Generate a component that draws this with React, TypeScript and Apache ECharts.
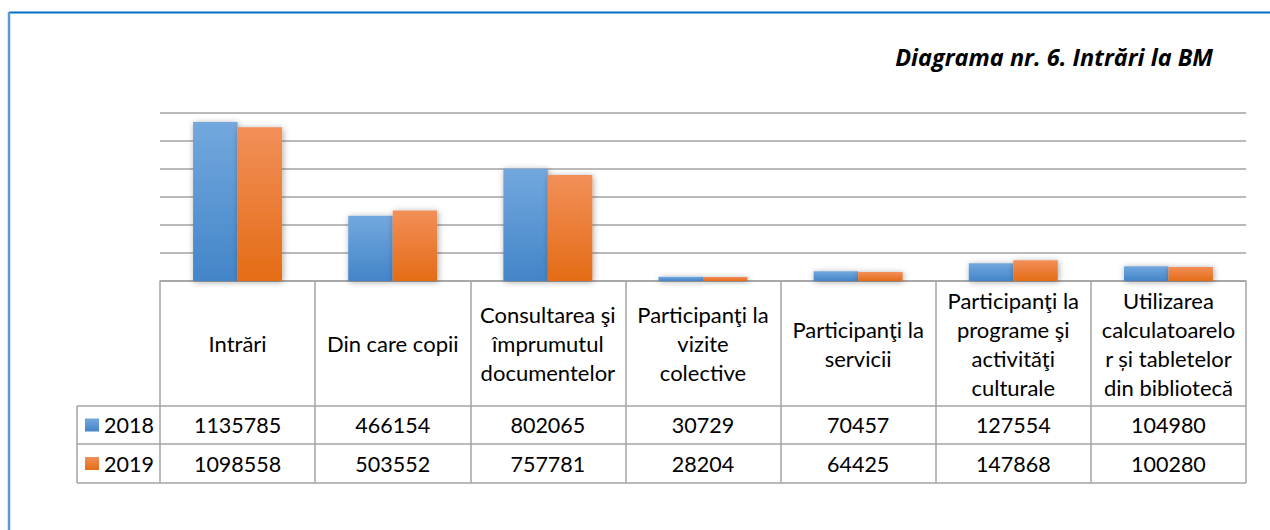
import React, { useEffect, useRef } from "react";
import * as echarts from "echarts";

const categories = [
  "Intrări",
  "Din care copii",
  "Consultarea şi\nîmprumutul\ndocumentelor",
  "Participanţi la\nvizite\ncolective",
  "Participanţi la\nservicii",
  "Participanţi la\nprograme şi\nactivităţi\nculturale",
  "Utilizarea\ncalculatoarelo\nr și tabletelor\ndin bibliotecă",
];
const seriesNames = ["2018", "2019"];
const values2018 = [1135785, 466154, 802065, 30729, 70457, 127554, 104980];
const values2019 = [1098558, 503552, 757781, 28204, 64425, 147868, 100280];
const titleText = "Diagrama nr. 6. Intrări la BM";

const FONT = "Lato, 'Noto Sans', sans-serif";
const TITLE_FONT = "'Open Sans', 'Noto Sans', sans-serif";

export default function App() {
  const ref = useRef<HTMLDivElement>(null);
  useEffect(() => {
    if (!ref.current) return;
    const chart = echarts.init(ref.current, undefined, { renderer: "svg" });
    const W = 1270;
    const H = 530;
    const gridLeft = 160;
    const gridRight = 1246;
    const gridTop = 113;
    const axisY = 281;
    const row1 = 406;
    const row2 = 444;
    const row3 = 483;
    const tableLeft = 77;
    const lineColor = "#a3a3a3";

    const blueGrad = new echarts.graphic.LinearGradient(0, 0, 0, 1, [
      { offset: 0, color: "#73a8de" },
      { offset: 1, color: "#4385c8" },
    ]);
    const orangeGrad = new echarts.graphic.LinearGradient(0, 0, 0, 1, [
      { offset: 0, color: "#f28f58" },
      { offset: 1, color: "#e46c16" },
    ]);

    const hLine = (y: number) => ({
      type: "line",
      shape: { x1: tableLeft, y1: y, x2: gridRight, y2: y },
      style: { stroke: lineColor, lineWidth: 1.5 },
      silent: true,
    });

    chart.setOption({
      animation: false,
      backgroundColor: "#ffffff",
      title: {
        text: titleText,
        right: W - 1213,
        top: 43,
        padding: 0,
        textStyle: {
          fontFamily: TITLE_FONT,
          fontStyle: "italic",
          fontWeight: "bold",
          fontSize: 23.5,
          lineHeight: 28,
          color: "#000000",
        },
      },
      legend: {
        orient: "vertical",
        left: 85,
        top: 413,
        padding: 0,
        itemWidth: 14,
        itemHeight: 13,
        itemGap: 14.5,
        icon: "rect",
        data: seriesNames,
        textStyle: {
          fontFamily: FONT,
          fontSize: 21.5,
          lineHeight: 24,
          color: "#000000",
          padding: [0, 0, 0, 0],
        },
      },
      grid: {
        left: gridLeft,
        right: W - gridRight,
        top: gridTop,
        bottom: H - axisY,
        containLabel: false,
      },
      xAxis: [
        {
          type: "category",
          data: categories,
          position: "bottom",
          axisLine: { show: true, lineStyle: { color: lineColor, width: 1.5 } },
          axisTick: {
            show: true,
            interval: 0,
            length: row3 - axisY,
            lineStyle: { color: lineColor, width: 1.5 },
          },
          axisLabel: {
            interval: 0,
            margin: (row1 - axisY) / 2,
            verticalAlign: "middle",
            align: "center",
            fontFamily: FONT,
            fontSize: 22,
            lineHeight: 29,
            color: "#000000",
          },
        },
        {
          type: "category",
          data: values2018.map((v) => String(v)),
          position: "bottom",
          axisLine: { show: false },
          axisTick: { show: false },
          axisLabel: {
            interval: 0,
            margin: (row1 + row2) / 2 - axisY,
            verticalAlign: "middle",
            fontFamily: FONT,
            fontSize: 21.5,
            color: "#000000",
          },
        },
        {
          type: "category",
          data: values2019.map((v) => String(v)),
          position: "bottom",
          axisLine: { show: false },
          axisTick: { show: false },
          axisLabel: {
            interval: 0,
            margin: (row2 + row3) / 2 - axisY,
            verticalAlign: "middle",
            fontFamily: FONT,
            fontSize: 21.5,
            color: "#000000",
          },
        },
      ],
      yAxis: {
        type: "value",
        min: 0,
        max: 1200000,
        interval: 200000,
        axisLine: { show: false },
        axisTick: { show: false },
        axisLabel: { show: false },
        splitLine: { show: true, lineStyle: { color: lineColor, width: 1.5 } },
      },
      series: [
        {
          name: seriesNames[0],
          type: "bar",
          xAxisIndex: 0,
          data: values2018,
          barWidth: 44.5,
          barGap: "0%",
          itemStyle: {
            color: blueGrad,
            shadowColor: "rgba(0,0,0,0.35)",
            shadowBlur: 6,
            shadowOffsetX: 1,
            shadowOffsetY: 1,
          },
        },
        {
          name: seriesNames[1],
          type: "bar",
          xAxisIndex: 0,
          data: values2019,
          barWidth: 44.5,
          barGap: "0%",
          itemStyle: {
            color: orangeGrad,
            shadowColor: "rgba(0,0,0,0.35)",
            shadowBlur: 6,
            shadowOffsetX: 1,
            shadowOffsetY: 1,
          },
        },
      ],
      graphic: [
        hLine(row1),
        hLine(row2),
        hLine(row3),
        {
          type: "line",
          shape: { x1: tableLeft, y1: row1, x2: tableLeft, y2: row3 },
          style: { stroke: lineColor, lineWidth: 1.5 },
          silent: true,
        },
        {
          type: "line",
          shape: { x1: 9, y1: 12.5, x2: W, y2: 12.5 },
          style: { stroke: "#0070c0", lineWidth: 2 },
          silent: true,
        },
        {
          type: "line",
          shape: { x1: 9, y1: 12, x2: 9, y2: H },
          style: { stroke: "#5b9bd5", lineWidth: 2.5 },
          silent: true,
        },
      ],
    });
    return () => chart.dispose();
  }, []);
  return (
    <div
      ref={ref}
      style={{ position: "fixed", left: 0, top: 0, width: 1270, height: 530 }}
    />
  );
}
